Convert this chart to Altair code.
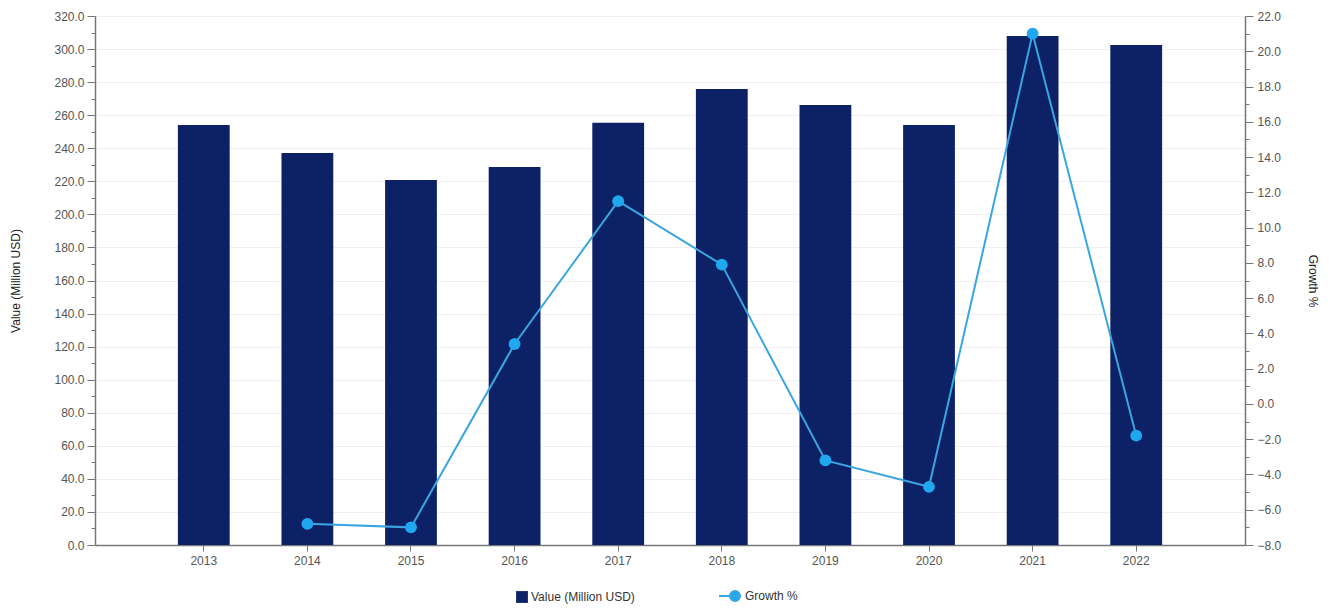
import altair as alt
import pandas as pd

years = ["2013", "2014", "2015", "2016", "2017", "2018", "2019", "2020", "2021", "2022"]
values = [254.1, 237.1, 220.8, 228.6, 255.4, 275.8, 266.1, 254.1, 307.9, 302.5]
growth = [None, -6.8, -7.0, 3.4, 11.5, 7.9, -3.2, -4.7, 21.0, -1.8]

value_ticks = list(range(0, 321, 10))
growth_ticks = list(range(-8, 23, 1))

df = pd.DataFrame({"year": years, "value": values, "growth": growth})

FONT = "Liberation Sans"
BAR_COLOR = "#0d2167"
LINE_COLOR = "#3aa6df"
POINT_COLOR = "#1fa8ef"

x = alt.X(
    "year:N",
    title=None,
    sort=years,
    scale=alt.Scale(paddingInner=0.5, paddingOuter=0.8),
    axis=alt.Axis(
        labelAngle=0, labelColor="#555", labelFont=FONT, labelFontSize=12,
        domainColor="#777", domainWidth=1.5, tickColor="#777", tickSize=6,
        labelPadding=4, grid=False,
    ),
)

bars = alt.Chart(df).transform_calculate(series="'Value (Million USD)'").mark_bar(
    color=BAR_COLOR
).encode(
    x=x,
    y=alt.Y(
        "value:Q",
        title="Value (Million USD)",
        scale=alt.Scale(domain=[0, 320], nice=False, zero=True),
        axis=alt.Axis(
            orient="left", values=value_ticks, labelOverlap=False,
            labelExpr="datum.value % 20 === 0 ? format(datum.value, '.1f') : ''",
            tickSize={"condition": {"test": "datum.value % 20 === 0", "value": 8}, "value": 4},
            gridOpacity={"condition": {"test": "datum.value % 20 === 0", "value": 1}, "value": 0},
            gridColor="#f0f0f0", grid=True,
            domainColor="#777", domainWidth=1.5, tickColor="#777",
            labelColor="#555", labelFont=FONT, labelFontSize=12, labelPadding=3,
            titleFont=FONT, titleFontSize=12, titleFontWeight="normal", titleColor="#222",
            titlePadding=31,
        ),
    ),
    color=alt.Color(
        "series:N",
        scale=alt.Scale(domain=["Value (Million USD)"], range=[BAR_COLOR]),
        legend=alt.Legend(
            title=None, orient="none", legendX=421, legendY=575, symbolType="square",
            symbolSize=140, labelFont=FONT, labelFontSize=12, labelColor="#333",
            labelOffset=3, padding=0, symbolStrokeWidth=0,
        ),
    ),
)

line = alt.Chart(df).transform_filter("datum.growth != null").transform_calculate(
    series="'Growth %'"
).mark_line(
    strokeWidth=2,
    point=alt.OverlayMarkDef(filled=True, size=140, fill=POINT_COLOR, strokeWidth=0),
).encode(
    x=x,
    y=alt.Y(
        "growth:Q",
        title="Growth %",
        scale=alt.Scale(domain=[-8, 22], nice=False, zero=False),
        axis=alt.Axis(
            orient="right", values=growth_ticks, labelOverlap=False,
            labelExpr="datum.value % 2 === 0 ? format(datum.value, '.1f') : ''",
            tickSize={"condition": {"test": "datum.value % 2 === 0", "value": 8}, "value": 4},
            grid=False,
            domainColor="#777", domainWidth=1.5, tickColor="#777",
            labelColor="#555", labelFont=FONT, labelFontSize=12, labelPadding=4,
            titleFont=FONT, titleFontSize=12, titleFontWeight="normal", titleColor="#222",
            titlePadding=25,
        ),
    ),
    stroke=alt.Stroke(
        "series:N",
        scale=alt.Scale(domain=["Growth %"], range=[LINE_COLOR]),
        legend=alt.Legend(
            title=None, orient="none", legendX=628, legendY=569,
            symbolType="M-1.5,0L0.6,0M-0.4,0A0.5,0.5 0 1,1 0.6,0A0.5,0.5 0 1,1 -0.4,0Z",
            symbolSize=400, symbolFillColor=POINT_COLOR, symbolStrokeWidth=2,
            labelFont=FONT, labelFontSize=12, labelColor="#333", labelOffset=0, padding=0,
        ),
    ),
)

chart = alt.layer(bars, line).resolve_scale(
    y="independent", color="independent"
).properties(
    width=1150,
    height=529,
    autosize=alt.AutoSizeParams(type="none"),
    padding={"left": 87, "top": 8, "right": 80, "bottom": 59},
).configure_view(stroke=None).configure(background="white")

chart.save("out.html", embed_options={"renderer": "svg", "actions": False})
